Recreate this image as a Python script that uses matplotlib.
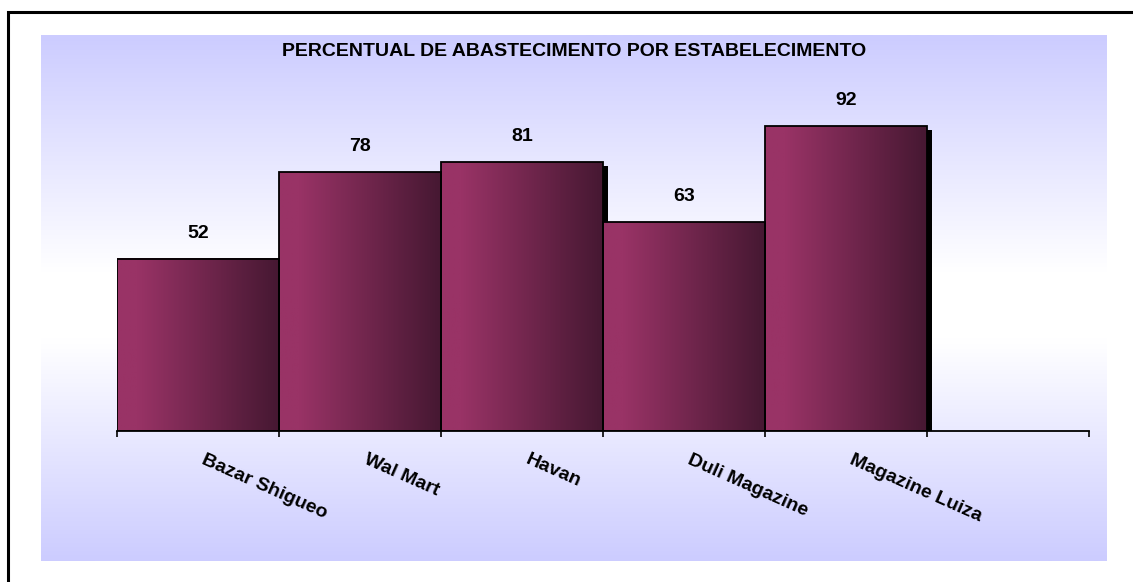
import matplotlib.pyplot as plt
import matplotlib.transforms as mtransforms
import numpy as np
from matplotlib.patches import Rectangle


categories = ["Bazar Shigueo", "Wal Mart", "Havan", "Duli Magazine", "Magazine Luiza"]
values = [52, 78, 81, 63, 92]
n_slots = 6  # the chart keeps an empty sixth slot on the right
title = "PERCENTUAL DE ABASTECIMENTO POR ESTABELECIMENTO"

W, H = 1133, 582
LAVENDER = np.array([204, 204, 255]) / 255
BAR_LIGHT = np.array([153, 51, 102]) / 255
BAR_DARK = np.array([70, 24, 50]) / 255


def px_box(x0, y0, x1, y1):
    # pixel box (top-left origin) -> figure fraction rect
    return [x0 / W, 1 - y1 / H, (x1 - x0) / W, (y1 - y0) / H]


plt.rcParams["font.family"] = ["Liberation Sans", "DejaVu Sans"]

fig = plt.figure(figsize=(W / 100, H / 100), dpi=100)

# outer chart border (only left and top fall inside the picture)
fig.patches.append(
    Rectangle((8 / W, -0.1), 1.2, 1.1 - 12 / H, transform=fig.transFigure,
              fill=False, edgecolor="black", linewidth=2.2, zorder=0)
)

# plot area background: lavender -> white -> lavender
bg = fig.add_axes(px_box(41, 35, 1107, 561))
bg.set_axis_off()
t = np.linspace(0, 1, 256)
mix = np.interp(t, [0, 0.45, 0.58, 1], [0, 1, 1, 0])
grad = LAVENDER[None, :] * (1 - mix[:, None]) + mix[:, None]
bg.imshow(grad[:, None, :], aspect="auto", extent=(0, 1, 0, 1))

ax = fig.add_axes(px_box(117, 99.5, 1089, 431))
ax.patch.set_alpha(0)

x = np.arange(len(values))
shadow = mtransforms.offset_copy(ax.transData, fig=fig, x=5, y=-4, units="dots")
ax.bar(x, values, width=1.0, color="black", transform=shadow, zorder=1)

u = np.linspace(0, 1, 128)
k = np.clip((u - 0.12) / 0.88, 0, 1)
bar_grad = BAR_LIGHT[None, :] * (1 - k[:, None]) + BAR_DARK[None, :] * k[:, None]
for xi, v in zip(x, values):
    ax.imshow(bar_grad[None, :, :], aspect="auto", extent=(xi - 0.5, xi + 0.5, 0, v), zorder=2)
ax.bar(x, values, width=1.0, fill=False, edgecolor="black", linewidth=1.3, zorder=3)

for xi, v in zip(x, values):
    ax.annotate(str(v), (xi, v), xytext=(0, 17), textcoords="offset pixels",
                ha="center", va="bottom", fontsize=14, fontweight="bold")

ax.set_xlim(-0.5, n_slots - 0.5)
ax.set_ylim(0, 100)
for side in ["top", "right", "left"]:
    ax.spines[side].set_visible(False)
ax.spines["bottom"].set_linewidth(1.3)
ax.set_yticks([])
ax.set_xticks(np.arange(-0.5, n_slots, 1.0), minor=True)
ax.set_xticks([])
ax.tick_params(axis="x", which="minor", length=4, width=1.2, direction="out", color="black")

label_tf = mtransforms.offset_copy(ax.get_xaxis_transform(), fig=fig, x=8, y=-20, units="dots")
for xi, name in zip(x, categories):
    ax.text(xi, 0, name, transform=label_tf, rotation=-24, rotation_mode="anchor",
            ha="left", va="top", fontsize=14, fontweight="bold")

fig.text(574 / W, 1 - 52 / H, title, ha="center", va="center", fontsize=14, fontweight="bold")

fig.savefig("out.png", dpi=100)
